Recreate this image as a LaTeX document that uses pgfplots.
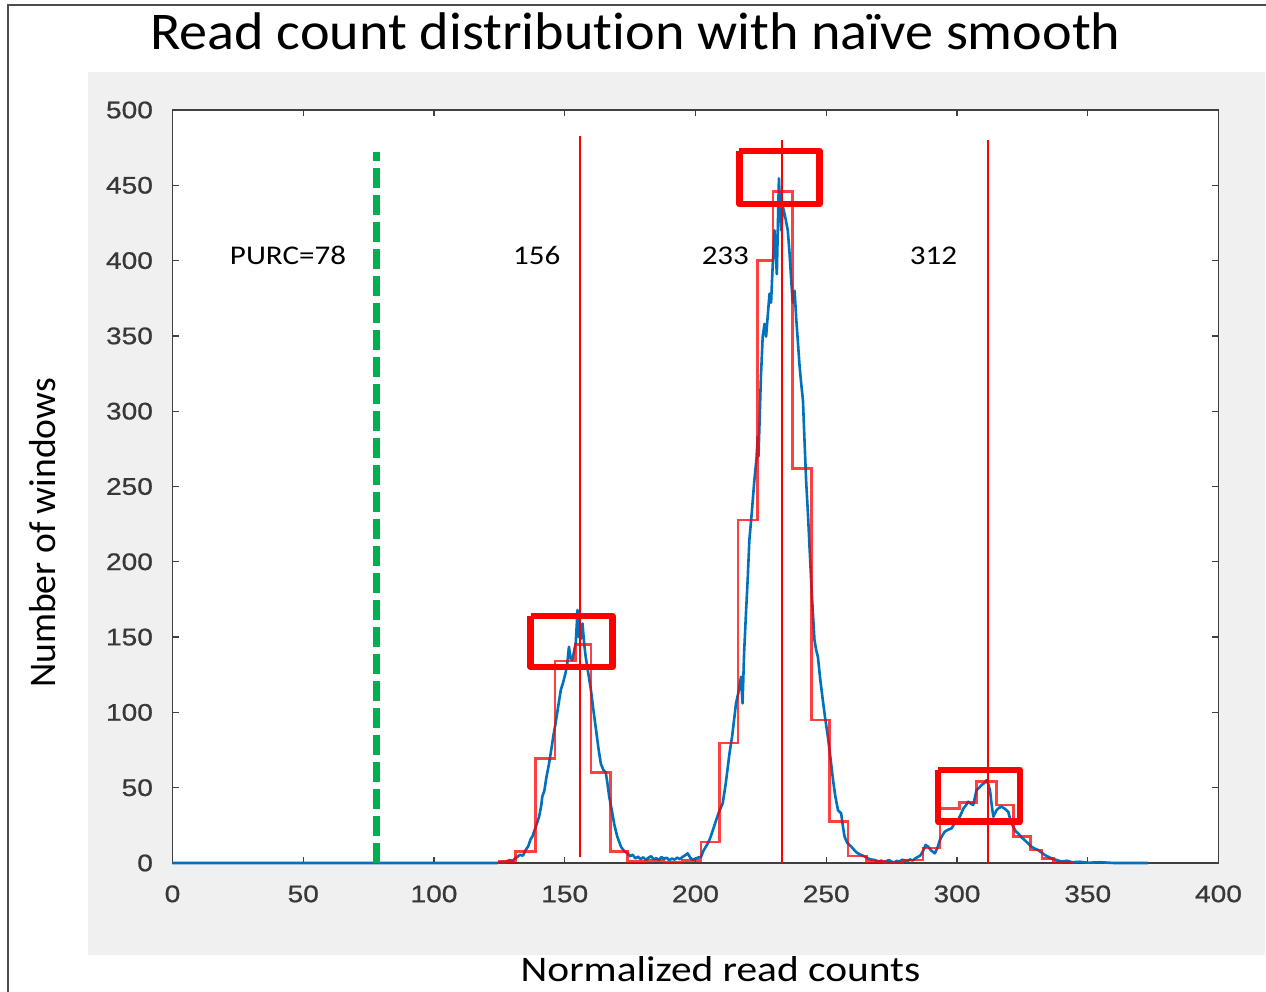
\documentclass[border=0pt]{standalone}
\usepackage{pgfplots}
\pgfplotsset{compat=1.18}
\usepackage{fontspec}
\setmainfont{Carlito}[Ligatures={NoCommon,NoContextual}]
\newfontfamily\titlefont[FakeStretch=1.06, Ligatures={NoCommon,NoContextual}]{Carlito}
\newfontfamily\labfont[FakeStretch=1.15, Ligatures={NoCommon,NoContextual}]{Carlito}
\newfontfamily\tickfont[FakeStretch=1.17, FakeBold=0.8]{Liberation Sans}
\definecolor{mblue}{HTML}{0072BD}
\definecolor{pgreen}{HTML}{00B050}
\definecolor{panel}{HTML}{F0F0F0}
\definecolor{axgray}{HTML}{404040}
\definecolor{tickgray}{HTML}{383838}

\begin{document}
\begin{tikzpicture}
\useasboundingbox (0pt,0pt) rectangle (633pt,496pt);
\fill[white] (0pt,0pt) rectangle (633pt,496pt);
\fill[panel] (44pt,18.5pt) rectangle (632.5pt,460pt);
\draw[black!70, line width=0.6pt] (4pt,-2pt) -- (4pt,493.5pt) -- (640pt,493.5pt);
\node[anchor=base, inner sep=0pt, font=\titlefont\fontsize{26.5}{30}\selectfont] at (317.75pt,471pt)
  {Read count distribution with naïve smooth};
\node[anchor=base, inner sep=0pt, font=\labfont\fontsize{18}{22}\selectfont] at (360.25pt,5pt)
  {Normalized read counts};
\node[rotate=90, anchor=base, inner sep=0pt, font=\fontsize{18.8}{22}\selectfont] at (27.5pt,229.5pt)
  {Number of windows};

\begin{axis}[
  at={(86.25pt,64.5pt)}, anchor=south west,
  scale only axis, width=523pt, height=376.5pt,
  xmin=0, xmax=400, ymin=0, ymax=500,
  xtick={0,50,...,400}, ytick={0,50,...,500},
  tick align=inside, tick pos=both,
  major tick length=3pt,
  tick style={axgray, line width=0.6pt},
  axis line style={axgray, line width=0.8pt},
  /pgf/number format/assume math mode=true,
  ticklabel style={font=\tickfont\fontsize{12}{14}\selectfont, text=tickgray},
  xticklabel style={anchor=north, inner sep=0pt, yshift=-11pt},
  yticklabel style={anchor=east, inner sep=0pt, xshift=-9.6pt},
  axis background/.style={fill=white},
  clip=false,
]
% per-bin read counts
\addplot[mblue, line width=1.3pt, line join=round] coordinates {
(0,0) (124,0)
(125,0.3) (126,0.8) (127,0.4) (128,1.2) (129,2) (130,1.4) (131,3) (132,4.2) (133,5.5) (134,4.8)
(135,8.5) (136,11) (137,16) (137.6,17.5) (138.5,22) (139.3,26) (140.2,30.7) (141,38) (141.4,44)
(142.2,48) (143,57) (144,66) (145,77) (145.7,85) (146.5,92.8) (147.5,104) (148.5,115) (149.4,120)
(150.4,127) (151,133) (151.6,143.6) (152.2,136) (152.9,134.8) (153.6,141) (154.2,146) (154.9,168)
(155.4,150) (155.7,154.7) (156.3,149) (156.8,159) (157.4,146) (158,137) (159,126) (160,115)
(161,101) (162,88) (162.9,76) (163.8,66) (164.7,62) (165.7,60) (166.4,52) (167,44) (168,35)
(168.9,26) (170,18) (171.5,10.8) (172.7,8) (174,6.4) (175,4.5) (176,5.5) (177,3) (178,4.2)
(179,2.5) (180,3.8) (181,2) (182,3.5) (183,4.5) (184,2.5) (185,3.2) (186,2) (187,4) (188,2.8)
(189,3.5) (190,1.8) (191,3) (192,2.2) (193,3.6) (194,2.5) (195,4) (196,5) (197,6.4) (198,3.5)
(199,2.2) (200,3) (201,3.6) (202.1,4) (203,8) (204.7,13) (205.5,16) (206.5,21) (207.9,28.5)
(209,34) (210.4,39.6) (211.5,52) (213,72.8) (214,84) (215.5,106) (216.5,114) (217.4,123.7)
(218,106) (218.6,140) (219.3,165.8) (220,190) (220.6,214.5) (221.5,232) (222.5,254) (223.3,268)
(223.8,283) (224.1,270) (225,322) (225.7,349.5) (226.4,358) (227,349.5) (227.7,365) (228.3,378)
(228.9,372) (229.5,396) (230.2,420) (230.7,405) (231.1,391) (231.9,454.6) (232.4,432) (232.8,420)
(233.4,436) (234.3,429) (235.3,420) (236,404) (236.6,387) (237.2,372) (237.9,380) (238.5,362)
(239.2,345) (239.8,330) (240.4,318.7) (241.1,307) (241.7,280) (242.3,254) (243,232) (243.6,210)
(244.5,178) (245.5,148) (246.2,141) (246.8,137) (247.7,122) (248.7,108) (249.6,96) (250.6,84)
(251.6,70) (252.6,55) (253.5,44) (254.5,35) (255.7,33) (256.4,24) (257,17.5) (258,13.5)
(259.6,10.8) (261,8) (262,6.5) (263.4,5.3) (265,4) (266,3) (267,2.4) (268.5,2) (270,1) (271,1.6)
(272,0.5) (273,1.2) (274,2) (275,0.8) (276,0.5) (277,1.4) (278,1) (279,2.2) (280,1.6) (281,1)
(282,2.4) (283,1.6) (284,3) (285,4) (286,5) (287,8) (288,12) (289,10.8) (290,8.5) (291.5,6.4)
(292.5,10) (293.4,15) (294.3,18) (295.3,20.8) (296.5,22) (297.9,23) (299,26) (300.4,28.5)
(301.4,32) (302.4,36) (303.3,38) (304.3,40.7) (305.2,39.5) (306.2,38.5) (306.9,44) (307.5,48.5)
(308.5,50) (309.4,51.8) (310.4,53) (311.3,55) (312,52) (312.6,48.5) (313.3,38) (313.9,30.7)
(314.5,33) (315.1,35) (316,36.5) (317,37.4) (318.3,36) (319.6,34) (320.5,28) (321.5,24) (322.5,21)
(323.4,19.7) (324.7,17) (326,15) (327.2,13) (328.5,10.8) (329.8,9.5) (331,8.6) (332.3,7)
(333.6,5.3) (335,4) (336.2,3) (338,2) (340,1) (342,1.5) (344,0.5) (347,0.8) (350,0.2) (355,0.5)
(360,0) (373,0)
};
% naive smooth (bin averages)
\addplot[red, opacity=0.75, line width=1.3pt, const plot] coordinates {
(124,0) (125,1) (131.2,7.5) (138.9,69.5) (146.2,134) (154.2,145) (160,60) (167.6,7.5) (174,1)
(181,1.5) (188,0.5) (195,1.5) (202.1,14) (209.1,79.6) (216.2,227.7) (223.6,400) (229.6,445.8)
(237.2,262) (244.3,95) (251.3,27.4) (258.3,4.6) (265.5,1) (272.5,0.5) (279.4,2) (287,10)
(293.5,36) (301,40) (307.5,54) (315,38.5) (321.5,17.5) (328,8.6) (332.5,3) (337,0.5) (344,0)
};
% copy-number peak positions
\addplot[red, line width=1pt] coordinates {(156,4) (156,483)};
\addplot[red, line width=1pt] coordinates {(233,0) (233,480)};
\addplot[red, line width=1pt] coordinates {(312,0) (312,480)};
% PURC threshold
\addplot[pgreen, line width=3.2pt, dash pattern=on 10pt off 3.5pt] coordinates {(78,0) (78,472)};
% highlighted peak tops
\addplot[red, line width=3.3pt, line join=round] coordinates {(137,164) (168.2,164) (168.2,130.1) (137,130.1) (137,164)};
\addplot[red, line width=3.3pt, line join=round] coordinates {(216.8,472.9) (247.4,472.9) (247.4,437.5) (216.8,437.5) (216.8,472.9)};
\addplot[red, line width=3.3pt, line join=round] coordinates {(292.8,61.8) (324.1,61.8) (324.1,27.4) (292.8,27.4) (292.8,61.8)};
% annotations
\begin{scope}[every node/.style={anchor=base east, inner sep=0pt, font=\labfont\fontsize{13.5}{16}\selectfont}]
\node at (axis cs:66.5,397.5) {PURC=78};
\node at (axis cs:148.5,397.5) {156};
\node at (axis cs:220.6,397.5) {233};
\node at (axis cs:300.2,397.5) {312};
\end{scope}
\end{axis}
\end{tikzpicture}
\end{document}
